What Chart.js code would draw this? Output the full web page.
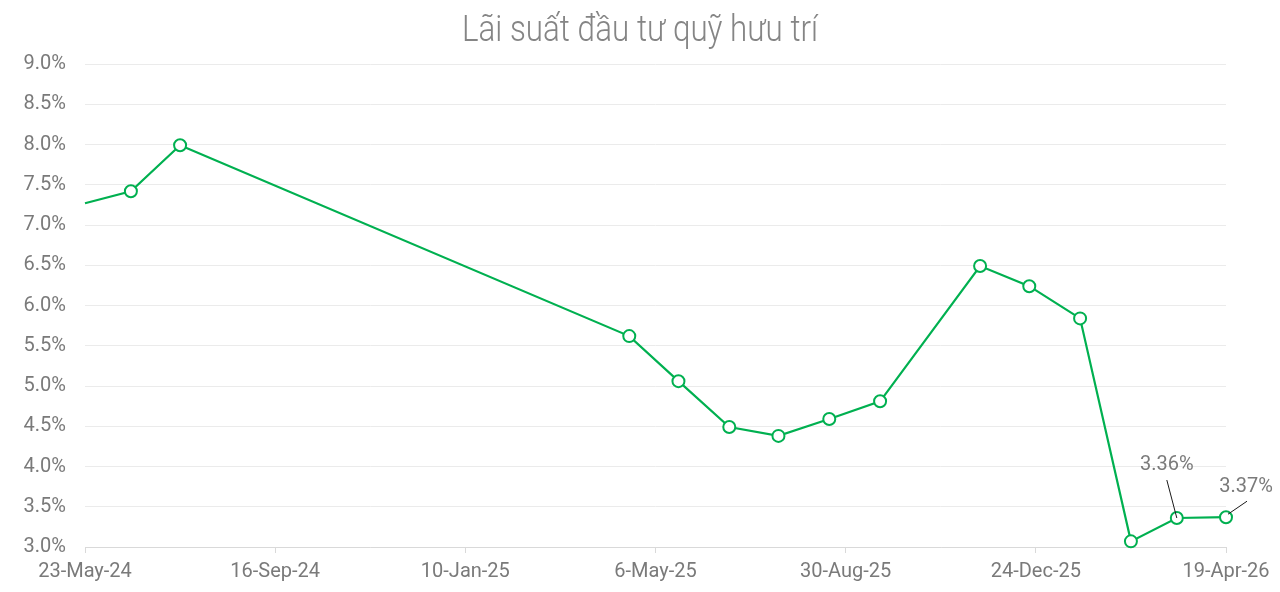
<!DOCTYPE html>
<html>
<head>
<meta charset="utf-8">
<script src="https://cdn.jsdelivr.net/npm/chart.js@4.4.1/dist/chart.umd.min.js"></script>
<style>
  html, body { margin: 0; padding: 0; background: #ffffff; }
  #wrap { width: 1280px; height: 592px; position: relative; }
</style>
</head>
<body>
<div id="wrap"><canvas id="c"></canvas></div>
<script>
// ---- data ----
const chartTitle = 'Lãi suất đầu tư quỹ hưu trí';
const axisStartDate = '2024-05-23';
const axisEndDate = '2026-04-19';
const tickStepDays = 116;
const dates = ['2024-05-23','2024-06-20','2024-07-20','2025-04-20','2025-05-20','2025-06-20',
               '2025-07-20','2025-08-20','2025-09-20','2025-11-20','2025-12-20','2026-01-20',
               '2026-02-20','2026-03-20','2026-04-19'];
const rates = [7.27, 7.42, 7.99, 5.62, 5.06, 4.49, 4.38, 4.59, 4.81, 6.49, 6.24, 5.84, 3.07, 3.36, 3.37];
const labelledIndices = [13, 14];
const yMin = 3, yMax = 9, yStep = 0.5;

// ---- helpers ----
const MONTHS = ['Jan','Feb','Mar','Apr','May','Jun','Jul','Aug','Sep','Oct','Nov','Dec'];
function toUTC(s) { const p = s.split('-').map(Number); return Date.UTC(p[0], p[1]-1, p[2]); }
const t0 = toUTC(axisStartDate);
function dayOffset(s) { return Math.round((toUTC(s) - t0) / 86400000); }
function fmtDay(d) {
  const dt = new Date(t0 + d * 86400000);
  return dt.getUTCDate() + '-' + MONTHS[dt.getUTCMonth()] + '-' + String(dt.getUTCFullYear()).slice(2);
}
const points = dates.map((d, i) => ({ x: dayOffset(d), y: rates[i] }));
const xMax = dayOffset(axisEndDate);

// ---- style ----
const GREEN = '#00b050';
const TEXT = '#7a7a7a';
const labelStyle = {
  13: { dx: -10, dy: -53, line: [-10, -38, 0, 0] },
  14: { dx: 20, dy: -30, line: [21, -16, 2, -3] }
};

const titlePlugin = {
  id: 'customTitle',
  afterDraw(chart) {
    const ctx = chart.ctx;
    ctx.save();
    ctx.font = '300 36px Roboto, sans-serif';
    ctx.fillStyle = '#858585';
    ctx.textAlign = 'center';
    ctx.textBaseline = 'alphabetic';
    const w = ctx.measureText(chartTitle).width;
    const sx = Math.min(1, 356 / w);
    ctx.translate(640, 41);
    ctx.scale(sx, 1);
    ctx.fillText(chartTitle, 0, 0);
    ctx.restore();
  }
};

const labelPlugin = {
  id: 'pointLabels',
  afterDatasetsDraw(chart) {
    const ctx = chart.ctx;
    const meta = chart.getDatasetMeta(0);
    ctx.save();
    labelledIndices.forEach(i => {
      const el = meta.data[i];
      const st = labelStyle[i];
      const x = el.x, y = el.y;
      ctx.strokeStyle = '#1a1a1a';
      ctx.lineWidth = 1;
      ctx.beginPath();
      ctx.moveTo(x + st.line[0], y + st.line[1]);
      ctx.lineTo(x + st.line[2], y + st.line[3]);
      ctx.stroke();
      ctx.font = '20px Roboto';
      ctx.fillStyle = TEXT;
      ctx.textAlign = 'center';
      ctx.textBaseline = 'middle';
      ctx.fillText(rates[i].toFixed(2) + '%', x + st.dx, y + st.dy);
    });
    ctx.restore();
  }
};

new Chart(document.getElementById('c'), {
  type: 'line',
  data: {
    datasets: [{
      data: points,
      borderColor: GREEN,
      borderWidth: 2.2,
      pointRadius: points.map((p, i) => i === 0 ? 0 : 6),
      pointHoverRadius: 6,
      pointBackgroundColor: '#ffffff',
      pointBorderColor: GREEN,
      pointBorderWidth: 2,
      tension: 0,
      clip: false
    }]
  },
  options: {
    responsive: true,
    maintainAspectRatio: false,
    animation: false,
    layout: { padding: { top: 64, right: 54, left: 0, bottom: 0 } },
    plugins: { legend: { display: false }, title: { display: false }, tooltip: { enabled: false } },
    scales: {
      x: {
        type: 'linear',
        min: 0,
        max: xMax,
        afterFit(s) { s.height = 45; },
        ticks: {
          stepSize: tickStepDays,
          autoSkip: false,
          maxRotation: 0,
          padding: 7,
          color: TEXT,
          font: { family: 'Roboto', size: 20 },
          callback: v => fmtDay(v)
        },
        grid: { display: true, drawOnChartArea: false, drawTicks: true, tickLength: 6, color: '#d9d9d9' },
        border: { display: true, color: '#d9d9d9' }
      },
      y: {
        min: yMin,
        max: yMax,
        afterFit(s) { s.width = 85; },
        ticks: {
          stepSize: yStep,
          padding: 19,
          color: TEXT,
          font: { family: 'Roboto', size: 20 },
          callback: v => v.toFixed(1) + '%'
        },
        grid: { color: '#ebebeb', drawTicks: false },
        border: { display: false }
      }
    }
  },
  plugins: [titlePlugin, labelPlugin]
});
</script>
</body>
</html>
